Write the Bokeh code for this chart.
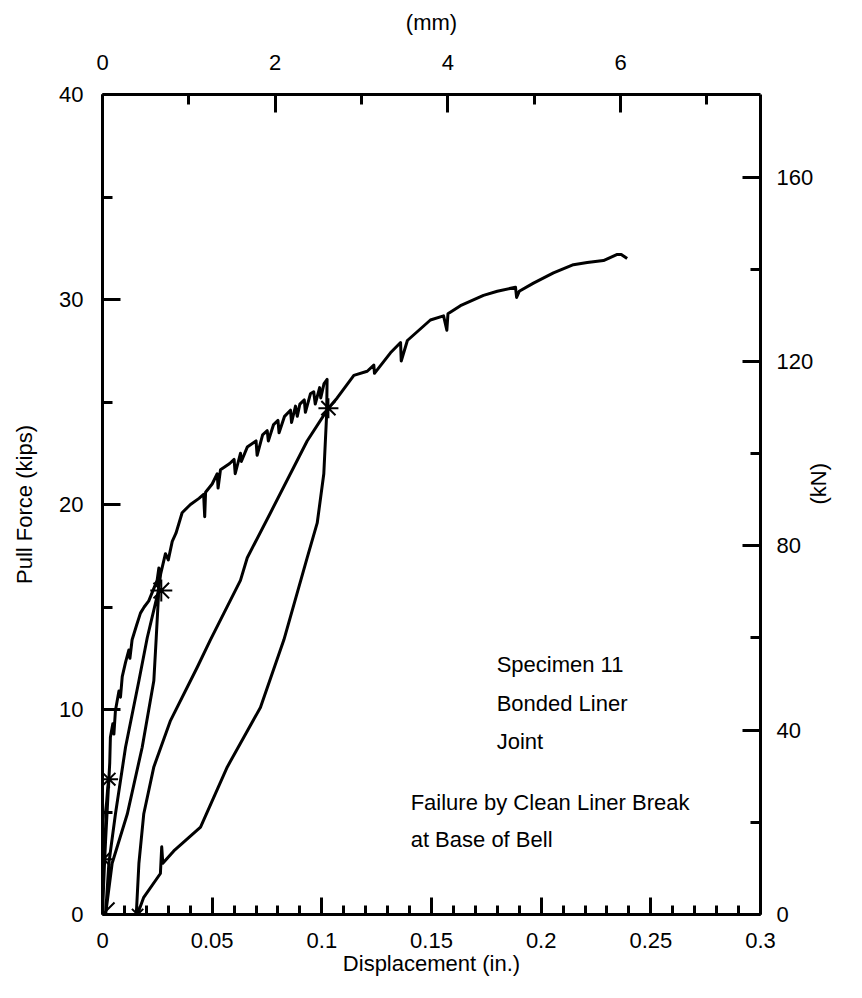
import numpy as np
from bokeh.plotting import figure
from bokeh.models import Range1d, LinearAxis, FixedTicker, CustomJSTickFormatter, Label
from bokeh.embed import file_html
from bokeh.resources import INLINE

# ---------------- data ----------------
KIP_TO_KN = 4.44822
IN_TO_MM = 25.4

x_ticks = [0, 0.05, 0.1, 0.15, 0.2, 0.25, 0.3]
x_minor = [0.01, 0.02, 0.03, 0.04, 0.06, 0.07, 0.08, 0.09, 0.11, 0.12, 0.13, 0.14,
           0.16, 0.17, 0.18, 0.19, 0.21, 0.22, 0.23, 0.24, 0.26, 0.27, 0.28, 0.29]
y_ticks = [0, 10, 20, 30, 40]
y_minor = [5, 15, 25, 35]
mm_ticks = [0, 2, 4, 6]
mm_minor = [1, 3, 5, 7]
kn_ticks = [0, 40, 80, 120, 160]
kn_minor = [20, 60, 100, 140]

# loading envelope, first part (origin to first reversal)
env1_x = [0, 0.0003, 0.0002, 0.0006, 0.0009, 0.0008, 0.0012, 0.0015, 0.0014, 0.0019, 0.0024, 0.0029]
env1_y = [0, 1.0, 1.4, 2.0, 2.7, 3.1, 3.6, 4.6, 5.0, 5.5, 6.2, 6.6]
# first unload / reload
unl1_x = [0.0029, 0.0022, 0.0014, 0.0007, 0.0002, 0]
unl1_y = [6.6, 5.2, 3.6, 2.0, 0.7, 0]
rel1_x = [0, 0.0005, 0.0012, 0.0020, 0.0029, 0.0033]
rel1_y = [0, 1.4, 3.2, 5.0, 6.6, 7.4]
# envelope up to second reversal
env2_x = [0.0033, 0.0036, 0.0047, 0.0052, 0.0059, 0.0075, 0.0082, 0.0090, 0.0105,
          0.0120, 0.0125, 0.0135, 0.0155, 0.0173, 0.0190, 0.0211, 0.0230, 0.0249, 0.0257]
env2_y = [7.4, 8.65, 9.3, 8.8, 9.95, 10.9, 10.6, 11.6, 12.3, 12.9, 12.5, 13.4, 14.1,
          14.7, 15.0, 15.3, 15.8, 16.3, 16.9]
# second unload / reload
unl2_x = [0.0257, 0.0255, 0.0245, 0.0234, 0.0181, 0.0113, 0.0044, 0.0014]
unl2_y = [16.9, 15.5, 13.5, 11.4, 8.16, 4.9, 2.5, 0]
rel2_x = [0.0014, 0.0029, 0.0059, 0.0105, 0.0166, 0.0204, 0.0255, 0.0265]
rel2_y = [0, 2.5, 4.9, 8.16, 11.4, 13.5, 15.8, 16.6]
# envelope up to third reversal (jagged)
env3_x = [0.0265, 0.0287, 0.0300, 0.0318, 0.0335, 0.0363, 0.0401, 0.0440, 0.0461, 0.0466,
          0.0470, 0.0500, 0.0523, 0.0527, 0.0538, 0.0580, 0.0600, 0.0605, 0.0629, 0.0633,
          0.0660, 0.0700, 0.0705, 0.0730, 0.0751, 0.0756, 0.0780, 0.0800, 0.0805, 0.0830,
          0.0857, 0.0862, 0.0880, 0.0888, 0.0900, 0.0920, 0.0925, 0.0948, 0.0963, 0.0970,
          0.0990, 0.0995, 0.1010, 0.1024]
env3_y = [16.6, 17.6, 17.3, 18.2, 18.6, 19.6, 20.0, 20.3, 20.5, 19.4, 20.6, 21.0, 21.5,
          20.8, 21.7, 22.0, 22.2, 21.5, 22.5, 22.1, 22.8, 23.1, 22.4, 23.4, 23.6, 23.1,
          23.9, 24.1, 23.5, 24.3, 24.6, 24.0, 24.8, 24.3, 24.9, 25.1, 24.5, 25.4, 25.5,
          24.9, 25.7, 25.2, 25.9, 26.1]
# third unload / reload
unl3_x = [0.1024, 0.1022, 0.1009, 0.0979, 0.0933, 0.0827, 0.0720, 0.0569, 0.0447,
          0.0325, 0.0275, 0.0270, 0.0264, 0.0188, 0.0166, 0.0160]
unl3_y = [26.1, 24.4, 21.5, 19.1, 17.4, 13.4, 10.1, 7.2, 4.26, 3.1, 2.5, 3.3, 2.0, 0.84, 0.2, 0]
rel3_x = [0.0155, 0.0155, 0.0166, 0.0188, 0.0234, 0.0310, 0.0432, 0.0492, 0.0629,
          0.0660, 0.0766, 0.0933, 0.1030]
rel3_y = [0, 0.2, 2.5, 4.9, 7.2, 9.46, 12.06, 13.4, 16.3, 17.4, 19.6, 23.1, 24.7]
# final envelope to failure
env4_x = [0.1030, 0.1070, 0.1146, 0.1207, 0.1237, 0.1240, 0.1313, 0.1359, 0.1362,
          0.1390, 0.1495, 0.1555, 0.1570, 0.1575, 0.1632, 0.1737, 0.1800, 0.1883,
          0.1888, 0.1900, 0.1965, 0.2056, 0.2147, 0.2210, 0.2284, 0.2347, 0.2365, 0.2392]
env4_y = [24.7, 25.2, 26.3, 26.5, 26.8, 26.4, 27.4, 27.9, 27.0, 28.0, 29.0, 29.2, 28.5,
          29.3, 29.7, 30.2, 30.4, 30.6, 30.1, 30.4, 30.8, 31.3, 31.7, 31.8, 31.9, 32.2,
          32.2, 32.0]

# reversal bursts
star_x = [0, 0.0005, 0.003, 0.0268, 0.1030, 0.0160]
star_y = [0, 2.7, 6.6, 15.8, 24.7, 0]
star_size = [34, 18, 18, 22, 20, 16]

curve_x = env1_x + unl1_x + rel1_x + env2_x + unl2_x + rel2_x + env3_x + unl3_x + rel3_x + env4_x
curve_y = env1_y + unl1_y + rel1_y + env2_y + unl2_y + rel2_y + env3_y + unl3_y + rel3_y + env4_y

FONT = "Liberation Sans"

p = figure(width=846, height=982, output_backend="svg", toolbar_location=None,
           x_range=Range1d(0, 0.3), y_range=Range1d(0, 40),
           min_border_left=102, min_border_right=86, min_border_top=94, min_border_bottom=68)
p.outline_line_color = None
p.grid.visible = False
p.background_fill_color = "white"
p.border_fill_color = "white"

bottom = p.below[0]
left = p.left[0]

p.extra_x_ranges = {"mm": Range1d(0, 0.3 * IN_TO_MM)}
p.extra_y_ranges = {"kn": Range1d(0, 40 * KIP_TO_KN)}

top = LinearAxis(x_range_name="mm")
right = LinearAxis(y_range_name="kn")
p.add_layout(top, "above")
p.add_layout(right, "right")

def style(ax, major, minor, label, standoff, lab_standoff):
    ax.ticker = FixedTicker(ticks=major, minor_ticks=minor)
    ax.axis_label = label
    ax.axis_line_width = 3
    ax.axis_line_color = "black"
    ax.major_tick_line_width = 3
    ax.minor_tick_line_width = 3
    ax.major_tick_line_color = "black"
    ax.minor_tick_line_color = "black"
    ax.major_tick_in = 18
    ax.major_tick_out = 0
    ax.minor_tick_in = 10
    ax.minor_tick_out = 0
    ax.major_label_text_font = FONT
    ax.major_label_text_font_size = "22px"
    ax.major_label_text_color = "black"
    ax.major_label_standoff = standoff
    ax.axis_label_text_font = FONT
    ax.axis_label_text_font_size = "22px"
    ax.axis_label_text_font_style = "normal"
    ax.axis_label_text_color = "black"
    ax.axis_label_standoff = lab_standoff

style(bottom, x_ticks, x_minor, "Displacement (in.)", 18, 0)
bottom.major_tick_in = 17
bottom.minor_tick_in = 9
bottom.formatter = CustomJSTickFormatter(code="return String(+tick.toFixed(2));")
style(left, y_ticks, y_minor, "Pull Force (kips)", 19, 19)
style(top, mm_ticks, mm_minor, "(mm)", 25, 17)
style(right, kn_ticks, kn_minor, "(kN)", 16, 2)
try:
    right.axis_label_orientation = np.pi / 2
except Exception:
    pass

p.line(curve_x, curve_y, line_color="black", line_width=3, line_join="round")
p.scatter(star_x, star_y, marker="asterisk", size=star_size, line_color="black", line_width=2)

notes = [("Specimen 11", 0.1797, 12.2), ("Bonded Liner", 0.1797, 10.3),
         ("Joint", 0.1797, 8.45), ("Failure by Clean Liner Break", 0.1405, 5.45),
         ("at Base of Bell", 0.1405, 3.65)]
for t, nx, ny in notes:
    p.add_layout(Label(x=nx, y=ny, text=t, text_font=FONT, text_font_size="22px",
                       text_color="black", text_baseline="middle", text_align="left"))

open("out.html", "w").write(file_html(p, INLINE))
